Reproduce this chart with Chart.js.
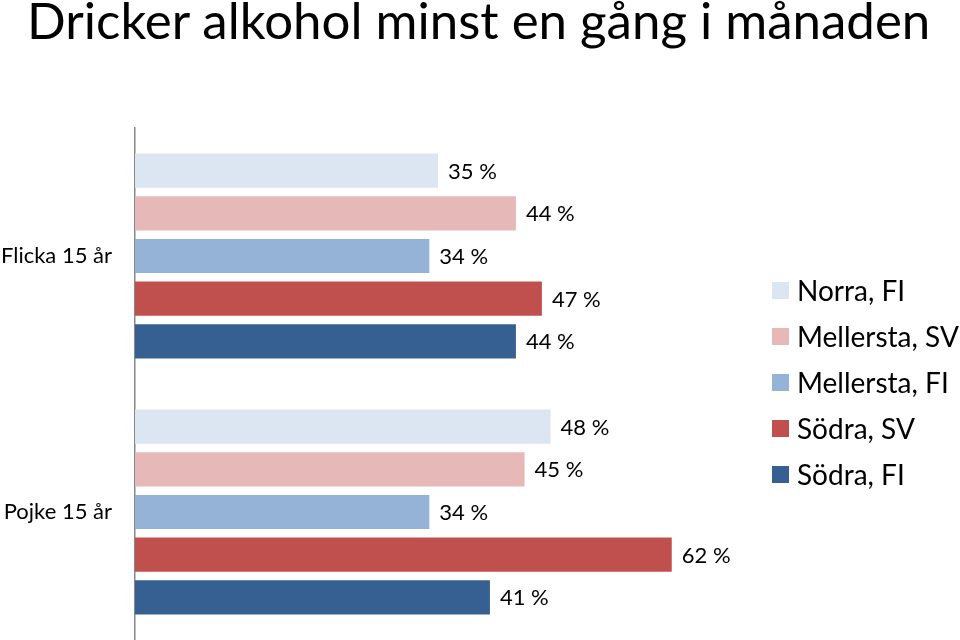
<!DOCTYPE html>
<html>
<head>
<meta charset="utf-8">
<script src="https://cdn.jsdelivr.net/npm/chart.js@4.4.1/dist/chart.umd.min.js"></script>
<style>
  body { margin: 0; background: #fff; }
  #wrap { position: relative; width: 960px; height: 640px; overflow: hidden; font-family: Lato, "Noto Sans", sans-serif; }
  #title { position: absolute; left: 27px; top: -11px; font-size: 51px; color: #000; white-space: nowrap; }
  #chart { position: absolute; left: 0; top: 0; }
  #legend { position: absolute; left: 772px; top: 267px; }
  .item { height: 46px; display: flex; align-items: center; font-size: 28px; color: #000; white-space: nowrap; }
  .box { width: 17px; height: 17px; margin-right: 8px; }
</style>
</head>
<body>
<div id="wrap">
  <div id="title">Dricker alkohol minst en gång i månaden</div>
  <canvas id="chart" width="960" height="640"></canvas>
  <div id="legend"></div>
</div>
<script>
const categories = ['Flicka 15 år', 'Pojke 15 år'];
const seriesNames = ['Norra, FI', 'Mellersta, SV', 'Mellersta, FI', 'Södra, SV', 'Södra, FI'];
const seriesColors = ['#DCE6F2', '#E6B9B8', '#95B3D7', '#C0504D', '#376092'];
const norraFI = [35, 48];
const mellerstaSV = [44, 45];
const mellerstaFI = [34, 34];
const sodraSV = [47, 62];
const sodraFI = [44, 41];
const seriesValues = [norraFI, mellerstaSV, mellerstaFI, sodraSV, sodraFI];

// värdeetiketter till höger om staplarna
const valueLabels = {
  id: 'valueLabels',
  afterDatasetsDraw(chart) {
    const ctx = chart.ctx;
    ctx.save();
    ctx.font = '22px Lato, "Noto Sans", sans-serif';
    ctx.fillStyle = '#000';
    ctx.textAlign = 'left';
    ctx.textBaseline = 'middle';
    chart.data.datasets.forEach((ds, i) => {
      chart.getDatasetMeta(i).data.forEach((bar, j) => {
        ctx.fillText(ds.data[j] + ' %', bar.x + 10, bar.y + 1);
      });
    });
    ctx.restore();
  }
};

new Chart(document.getElementById('chart'), {
  type: 'bar',
  data: {
    labels: categories,
    datasets: seriesNames.map((name, i) => ({
      label: name,
      data: seriesValues[i],
      backgroundColor: seriesColors[i],
      borderWidth: 0,
      categoryPercentage: 5 / 6,
      barPercentage: 0.8
    }))
  },
  options: {
    indexAxis: 'y',
    responsive: false,
    maintainAspectRatio: false,
    animation: false,
    layout: { padding: { top: 128, right: 219, left: 0, bottom: 0 } },
    plugins: {
      legend: { display: false },
      tooltip: { enabled: false }
    },
    scales: {
      x: { display: false, min: 0, max: 70 },
      y: {
        grid: { display: false, drawTicks: false },
        border: { display: true, color: '#888', width: 1.5 },
        ticks: {
          padding: 23,
          color: '#000',
          font: { family: 'Lato, "Noto Sans", sans-serif', size: 22 }
        },
        afterFit(scale) {
          scale.width = 135;
          // axeln ska gå ända ner till kanten
          scale.paddingTop = 0;
          scale.paddingBottom = 0;
        }
      }
    }
  },
  plugins: [valueLabels]
});

// förklaring
const legend = document.getElementById('legend');
seriesNames.forEach((name, i) => {
  const item = document.createElement('div');
  item.className = 'item';
  const box = document.createElement('span');
  box.className = 'box';
  box.style.background = seriesColors[i];
  item.appendChild(box);
  item.appendChild(document.createTextNode(name));
  legend.appendChild(item);
});
</script>
</body>
</html>
